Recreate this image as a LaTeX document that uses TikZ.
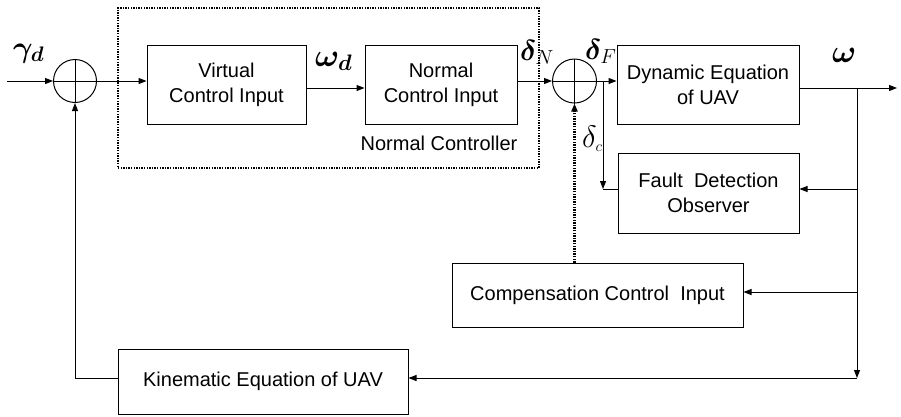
\documentclass[tikz,border=0pt]{standalone}
\usepackage{fix-cm}
\usepackage{bm}
\usepackage{fontspec}
\setmainfont{Liberation Sans}
\usetikzlibrary{arrows.meta}
\begin{document}
\begin{tikzpicture}[x=1pt,y=-1pt,
  blk/.style={draw, line width=1pt, inner sep=0pt, align=center, font=\fontsize{20}{25}\selectfont},
  conn/.style={line width=1pt},
  arr/.style={conn, -{Triangle[length=8pt,width=6pt]}},
  sumj/.style={draw, circle, line width=1pt, minimum size=43pt, inner sep=0pt},
  lbl/.style={inner sep=0pt, anchor=base west},
  dots/.style={line width=2pt, dash pattern=on 1.4pt off 1.2pt}
]
\useasboundingbox (0,0) rectangle (901,416);

% dotted controller box
\node[dots, draw, minimum width=421pt, minimum height=160pt, inner sep=0pt] (ctrl) at (328.5,88) {};
\node[inner sep=0pt, font=\fontsize{20}{25}\selectfont] (nclbl) at (439,143) {Normal Controller};

% blocks
\node[blk, minimum width=159pt, minimum height=79pt] (vci) at (226.5,84.5) {Virtual\\Control Input};
\node[blk, minimum width=152pt, minimum height=79pt] (nci) at (441,84.5) {Normal\\Control Input};
\node[blk, minimum width=182pt, minimum height=79pt] (dyn) at (708,84.5) {Dynamic Equation\\of UAV};
\node[blk, minimum width=181pt, minimum height=80pt] (fdo) at (708.5,193) {Fault~~Detection\\Observer};
\node[blk, minimum width=291pt, minimum height=64pt] (cci) at (597.5,295) {Compensation Control~~Input};
\node[blk, minimum width=290pt, minimum height=65pt] (kin) at (263,381.5) {Kinematic Equation of UAV};

% summing junctions
\node[sumj] (s1) at (75,81) {};
\draw[conn] (s1.north) -- (s1.south) (s1.west) -- (s1.east);
\node[sumj, minimum size=44pt] (s2) at (574.5,81) {};
\draw[conn] (s2.north) -- (s2.south) (s2.west) -- (s2.east);

% labels
\node[lbl] (gd) at (13,57) {\fontsize{30}{30}\selectfont$\bm{\gamma}_{\bm{d}}$};
\node[lbl] (wd) at (315,66) {\fontsize{32}{32}\selectfont$\bm{\omega}_{\bm{d}}$};
\node[lbl] (dN) at (520,60) {\fontsize{29}{29}\selectfont$\bm{\delta}_{N}$};
\node[lbl] (dF) at (585,59) {\fontsize{29}{29}\selectfont$\bm{\delta}_{F}$};
\node[lbl] (dc) at (582,147) {\fontsize{31}{31}\selectfont$\delta_{\scriptscriptstyle c}$};
\node[lbl] (w) at (832,62) {\fontsize{32}{32}\selectfont$\bm{\omega}$};

% coordinates
\coordinate (in) at (7,81);
\coordinate (bc) at (603,81);
\coordinate (br) at (857,88);
\coordinate (out) at (897,88);
\coordinate (cr) at (857,378);
\path ([yshift=4pt]fdo.west) coordinate (fdoL) ([yshift=4pt]fdo.east) coordinate (fdoR);
\path ([yshift=3pt]cci.east) coordinate (cciR);

% forward path
\draw[arr] (in) -- (s1.west);
\draw[arr] (s1.east) -- (s1.east -| vci.west);
\draw[arr] ([yshift=-3.5pt]vci.east) -- ([yshift=-3.5pt]nci.west);
\draw[arr] (nci.east |- s2.west) -- (s2.west);
\draw[arr] (s2.east) -- (s2.east -| dyn.west);
\draw[arr] ([yshift=-3.5pt]dyn.east) -- (out);

% fault detection branch
\draw[arr] (bc) -- (bc |- fdoL);
\draw[conn] (fdoL) -- (bc |- fdoL);

% feedback paths
\draw[arr] (br) -- (cr);
\draw[arr] (br |- fdoR) -- (fdoR);
\draw[arr] (br |- cciR) -- (cciR);
\draw[arr] (cr) -- (cr -| kin.east);
\draw[arr] (kin.west |- cr) -- (s1.south |- cr) -- (s1.south);

% compensation (dotted)
\draw[dots, line width=2.4pt, -{Triangle[length=8pt,width=6pt]}] (cci.north -| s2.south) -- (s2.south);
\end{tikzpicture}
\end{document}
